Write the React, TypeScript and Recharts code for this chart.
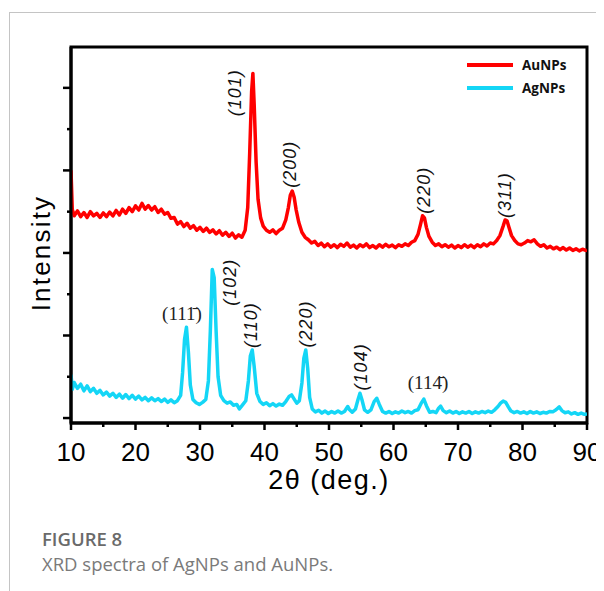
import React from "react";
import {
  LineChart,
  Line,
  XAxis,
  YAxis,
  ReferenceArea,
  ReferenceDot,
  Legend,
} from "recharts";

// 2θ positions and intensities (arbitrary units, AuNPs trace offset upward)
const auTheta = [
  10, 10.2, 10.5, 11, 11.5, 12, 12.5, 13, 13.5, 14,
  14.5, 15, 15.5, 16, 16.5, 17, 17.5, 18, 18.5, 19,
  19.5, 20, 20.5, 21, 21.5, 22, 22.5, 23, 23.5, 24,
  24.5, 25, 25.5, 26, 26.5, 27, 27.5, 28, 28.5, 29,
  29.5, 30, 30.5, 31, 31.5, 32, 32.5, 33, 33.5, 34,
  34.5, 35, 35.5, 36, 36.5, 37, 37.4, 37.7, 38.0, 38.2,
  38.4, 38.7, 39.0, 39.4, 39.8, 40.3, 40.8, 41.3, 41.8, 42.3,
  42.8, 43.3, 43.7, 44.0, 44.3, 44.6, 44.9, 45.3, 45.8, 46.3,
  46.8, 47.3, 47.8, 48.3, 48.8, 49.3, 49.8, 50.3, 50.8, 51.3,
  51.8, 52.3, 52.8, 53.3, 53.8, 54.3, 54.8, 55.3, 55.8, 56.3,
  56.8, 57.3, 57.8, 58.3, 58.8, 59.3, 59.8, 60.3, 60.8, 61.3,
  61.8, 62.3, 62.8, 63.3, 63.8, 64.2, 64.5, 64.8, 65.1, 65.5,
  66.0, 66.5, 67.0, 67.5, 68.0, 68.5, 69.0, 69.5, 70.0, 70.5,
  71.0, 71.5, 72.0, 72.5, 73.0, 73.5, 74.0, 74.5, 75.0, 75.5,
  76.0, 76.5, 77.0, 77.3, 77.6, 77.9, 78.3, 78.8, 79.3, 79.8,
  80.3, 80.8, 81.3, 81.8, 82.3, 82.8, 83.3, 83.8, 84.3, 84.8,
  85.3, 85.8, 86.3, 86.8, 87.3, 87.8, 88.3, 88.8, 89.3, 89.8, 90,
];
const auIntensity = [
  6.0, 5.05, 4.9, 5.02, 4.88, 4.98, 4.86, 5.0, 4.9, 4.96,
  4.86, 4.97, 4.88, 4.99, 4.9, 5.03, 4.92, 5.06, 4.96, 5.1,
  5.0, 5.14, 5.04, 5.2, 5.06, 5.15, 5.04, 5.12, 4.98, 5.06,
  4.94, 4.98, 4.84, 4.86, 4.7, 4.76, 4.64, 4.72, 4.6, 4.66,
  4.55, 4.62, 4.52, 4.6, 4.5, 4.56, 4.46, 4.54, 4.43, 4.5,
  4.4, 4.48, 4.36, 4.44, 4.38, 4.55, 5.1, 6.4, 7.9, 8.35,
  7.6, 6.2, 5.3, 4.85, 4.65, 4.55, 4.5, 4.56, 4.47, 4.55,
  4.6, 4.8, 5.1, 5.4, 5.5, 5.35, 5.05, 4.75, 4.5, 4.38,
  4.32, 4.24, 4.28, 4.18, 4.24, 4.15, 4.22, 4.14, 4.2, 4.13,
  4.21, 4.16, 4.24, 4.14, 4.19, 4.12, 4.2, 4.15, 4.22, 4.13,
  4.18, 4.12, 4.2, 4.14, 4.21, 4.15, 4.19, 4.13, 4.2, 4.16,
  4.22, 4.18, 4.26, 4.3, 4.45, 4.7, 4.9, 4.85, 4.62, 4.4,
  4.26, 4.18, 4.22, 4.15, 4.2, 4.14, 4.19, 4.12, 4.18, 4.13,
  4.2, 4.14, 4.19, 4.13, 4.2, 4.15, 4.22, 4.17, 4.24, 4.22,
  4.3, 4.42, 4.65, 4.8, 4.78, 4.62, 4.42, 4.3, 4.22, 4.2,
  4.24, 4.3, 4.27, 4.32, 4.22, 4.16, 4.2, 4.12, 4.16, 4.1,
  4.14, 4.08, 4.13, 4.07, 4.12, 4.06, 4.1, 4.05, 4.09, 4.06, 4.08,
];

const agTheta = [
  10, 10.2, 10.5, 11, 11.5, 12, 12.5, 13, 13.5, 14,
  14.5, 15, 15.5, 16, 16.5, 17, 17.5, 18, 18.5, 19,
  19.5, 20, 20.5, 21, 21.5, 22, 22.5, 23, 23.5, 24,
  24.5, 25, 25.5, 26, 26.5, 27, 27.3, 27.6, 27.9, 28.2,
  28.5, 28.9, 29.4, 29.9, 30.4, 30.9, 31.3, 31.6, 31.9, 32.2,
  32.5, 32.8, 33.2, 33.7, 34.2, 34.7, 35.2, 35.7, 36.1, 36.6,
  37.1, 37.5, 37.8, 38.1, 38.4, 38.8, 39.3, 39.8, 40.3, 40.8,
  41.3, 41.8, 42.3, 42.8, 43.3, 43.8, 44.2, 44.6, 45.0, 45.4,
  45.8, 46.1, 46.4, 46.7, 47.0, 47.4, 47.9, 48.4, 48.9, 49.4,
  49.9, 50.4, 50.9, 51.4, 51.9, 52.4, 52.9, 53.2, 53.6, 54.1,
  54.5, 54.8, 55.1, 55.5, 56.0, 56.5, 57.0, 57.4, 57.8, 58.3,
  58.8, 59.3, 59.8, 60.3, 60.8, 61.3, 61.8, 62.3, 62.8, 63.3,
  63.8, 64.3, 64.7, 65.1, 65.6, 66.1, 66.6, 67.0, 67.3, 67.7,
  68.2, 68.7, 69.2, 69.7, 70.2, 70.7, 71.2, 71.7, 72.2, 72.7,
  73.2, 73.7, 74.2, 74.7, 75.2, 75.7, 76.2, 76.6, 77.0, 77.4,
  77.8, 78.2, 78.7, 79.2, 79.7, 80.2, 80.7, 81.2, 81.7, 82.2,
  82.7, 83.2, 83.7, 84.2, 84.7, 85.2, 85.7, 86.1, 86.6, 87.1,
  87.6, 88.1, 88.6, 89.1, 89.6, 90,
];
const agIntensity = [
  1.05, 0.7, 0.86, 0.72, 0.82, 0.66, 0.78, 0.64, 0.72, 0.6,
  0.67, 0.56, 0.63, 0.53, 0.6, 0.5, 0.58, 0.48, 0.57, 0.47,
  0.55, 0.46, 0.53, 0.44, 0.5, 0.42, 0.49, 0.42, 0.47, 0.4,
  0.46, 0.38, 0.44, 0.37, 0.42, 0.55, 1.1, 1.9, 2.2, 1.6,
  0.8, 0.45, 0.37, 0.33, 0.38, 0.45, 0.9, 2.1, 3.6, 3.4,
  2.1, 1.0, 0.55, 0.42, 0.36, 0.39, 0.31, 0.33, 0.22, 0.32,
  0.42, 0.9, 1.5, 1.65, 1.25, 0.6, 0.4, 0.33, 0.37, 0.3,
  0.35, 0.29, 0.34, 0.31, 0.4, 0.52, 0.56, 0.46, 0.36, 0.42,
  0.85, 1.45, 1.65, 1.2, 0.5, 0.22, 0.15, 0.19, 0.12, 0.17,
  0.11, 0.16, 0.12, 0.17, 0.12, 0.16, 0.28, 0.2, 0.14, 0.22,
  0.45, 0.6, 0.45, 0.2, 0.14, 0.2, 0.4, 0.48, 0.33, 0.16,
  0.12, 0.16, 0.11, 0.15, 0.12, 0.17, 0.13, 0.16, 0.12, 0.18,
  0.2, 0.36, 0.46, 0.3, 0.14, 0.16, 0.13, 0.24, 0.29, 0.18,
  0.13, 0.17, 0.12, 0.16, 0.11, 0.15, 0.12, 0.16, 0.11, 0.15,
  0.12, 0.16, 0.13, 0.17, 0.14, 0.2, 0.28, 0.36, 0.41, 0.38,
  0.27, 0.17, 0.13, 0.16, 0.12, 0.15, 0.11, 0.16, 0.12, 0.15,
  0.11, 0.14, 0.12, 0.16, 0.15, 0.2, 0.27, 0.18, 0.13, 0.15,
  0.1, 0.13, 0.09, 0.12, 0.09, 0.1,
];

const xTicks = [10, 15, 20, 25, 30, 35, 40, 45, 50, 55, 60, 65, 70, 75, 80, 85, 90];
const yTicks = [0, 1, 2, 3, 4, 5, 6, 7, 8];
const legendOrder = ["AuNPs", "AgNPs"];

// peak (hkl) annotations
const auPeakText = ["(101)", "(200)", "(220)", "(311)"];
const auPeakTheta = [35.5, 44.0, 64.7, 77.3];
const auPeakLevel = [7.88, 6.15, 5.52, 5.4];

const agPeakText = ["(102)", "(110)", "(220)", "(104)"];
const agPeakTheta = [34.65, 37.9, 46.4, 55.0];
const agPeakLevel = [3.29, 2.25, 2.28, 1.24];

const agSerifText = ["(111\u0304)", "(114\u0304)"];
const agSerifTheta = [27.2, 65.35];
const agSerifLevel = [2.54, 0.85];

const auData = auTheta.map((t, i) => ({ theta: t, au: auIntensity[i] }));
const agData = agTheta.map((t, i) => ({ theta: t, ag: agIntensity[i] }));

const ARIAL = "Arial, 'Liberation Sans', sans-serif";
const SERIF = "'Liberation Serif', 'Times New Roman', serif";

const XTick = (props: any) => {
  const { x, y, payload } = props;
  const major = payload.value % 10 === 0;
  return (
    <g>
      <line x1={x} y1={y} x2={x} y2={y + (major ? 7 : 4)} stroke="#000" strokeWidth={2.5} />
      {major && (
        <text x={x} y={y + 38} textAnchor="middle" fontSize={26} fontFamily={ARIAL} fill="#000">
          {payload.value}
        </text>
      )}
    </g>
  );
};

const YTick = (props: any) => {
  const { x, y, payload } = props;
  const major = payload.value % 2 === 0;
  return <line x1={x - (major ? 8 : 4)} y1={y} x2={x} y2={y} stroke="#000" strokeWidth={2.5} />;
};

const rotatedLabel = (text: string) => (p: any) => (
  <text
    x={p.cx}
    y={p.cy}
    transform={`rotate(-90 ${p.cx} ${p.cy})`}
    textAnchor="middle"
    dominantBaseline="central"
    fontSize={18}
    fontStyle="italic"
    fontFamily={ARIAL}
    letterSpacing={1}
    fill="#111"
  >
    {text}
  </text>
);

const serifLabel = (text: string) => (p: any) => (
  <text
    x={p.cx}
    y={p.cy}
    textAnchor="middle"
    dominantBaseline="central"
    fontSize={19}
    fontFamily={SERIF}
    fill="#222"
  >
    {text}
  </text>
);

const renderLegend = (props: any) => {
  const payload = [...(props.payload || [])].sort(
    (a: any, b: any) => legendOrder.indexOf(a.value) - legendOrder.indexOf(b.value)
  );
  return (
    <div>
      {payload.map((entry: any) => (
        <div key={entry.value} style={{ display: "flex", alignItems: "center", height: 23.5 }}>
          <div style={{ width: 46, height: 4, background: entry.color, marginRight: 9 }} />
          <span style={{ fontFamily: "'Open Sans', sans-serif", fontWeight: 700, fontSize: 13.5, color: "#111" }}>
            {entry.value}
          </span>
        </div>
      ))}
    </div>
  );
};

const App: React.FC = () => {
  return (
    <div style={{ position: "relative", width: 596, height: 583 }}>
      <div
        style={{
          position: "absolute",
          left: 1,
          top: 3.5,
          width: 595,
          height: 580,
          borderTop: "1.5px solid #c4c4c4",
          borderLeft: "1.5px solid #c4c4c4",
          boxSizing: "border-box",
        }}
      />
      <div style={{ position: "absolute", left: 0, top: 0 }}>
        <LineChart width={596} height={500} margin={{ top: 39, right: 17, bottom: 5, left: 3 }}>
          <XAxis
            type="number"
            dataKey="theta"
            domain={[10, 90]}
            ticks={xTicks}
            allowDataOverflow
            height={80}
            tickSize={0}
            tickMargin={0}
            tickLine={false}
            tick={<XTick />}
            interval={0}
            axisLine={{ stroke: "#000", strokeWidth: 3 }}
            label={{
              content: (p: any) => (
                <text
                  x={p.viewBox.x + p.viewBox.width / 2}
                  y={p.viewBox.y + 66}
                  textAnchor="middle"
                  fontSize={27}
                  fontFamily={ARIAL}
                  letterSpacing={1.5}
                  fill="#000"
                >
                  2θ (deg.)
                </text>
              ),
            }}
          />
          <YAxis
            type="number"
            domain={[-0.12, 8.99]}
            ticks={yTicks}
            allowDataOverflow
            width={60}
            tickSize={0}
            tickMargin={0}
            tickLine={false}
            tick={<YTick />}
            interval={0}
            axisLine={{ stroke: "#000", strokeWidth: 3 }}
            label={{
              content: (p: any) => {
                const cx = p.viewBox.x + 39;
                const cy = p.viewBox.y + p.viewBox.height / 2 + 18;
                return (
                  <text
                    x={cx}
                    y={cy}
                    transform={`rotate(-90 ${cx} ${cy})`}
                    textAnchor="middle"
                    fontSize={26}
                    fontFamily={ARIAL}
                    letterSpacing={2.2}
                    fill="#000"
                  >
                    Intensity
                  </text>
                );
              },
            }}
          />
          <ReferenceArea
            x1={10}
            x2={90}
            y1={-0.12}
            y2={8.99}
            fill="none"
            stroke="#000"
            strokeWidth={3}
            ifOverflow="visible"
          />
          <Line
            data={auData}
            dataKey="au"
            name="AuNPs"
            type="linear"
            stroke="#ff0000"
            strokeWidth={3.5}
            strokeLinejoin="round"
            dot={false}
            isAnimationActive={false}
          />
          <Line
            data={agData}
            dataKey="ag"
            name="AgNPs"
            type="linear"
            stroke="#14d6f6"
            strokeWidth={3.5}
            strokeLinejoin="round"
            dot={false}
            isAnimationActive={false}
          />
          {auPeakText.map((t, i) => (
            <ReferenceDot
              key={"au" + i}
              x={auPeakTheta[i]}
              y={auPeakLevel[i]}
              r={0}
              ifOverflow="visible"
              shape={rotatedLabel(t)}
            />
          ))}
          {agPeakText.map((t, i) => (
            <ReferenceDot
              key={"ag" + i}
              x={agPeakTheta[i]}
              y={agPeakLevel[i]}
              r={0}
              ifOverflow="visible"
              shape={rotatedLabel(t)}
            />
          ))}
          {agSerifText.map((t, i) => (
            <ReferenceDot
              key={"ags" + i}
              x={agSerifTheta[i]}
              y={agSerifLevel[i]}
              r={0}
              ifOverflow="visible"
              shape={serifLabel(t)}
            />
          ))}
          <Legend
            layout="horizontal"
            verticalAlign="middle"
            align="center"
            content={renderLegend}
            wrapperStyle={{ left: 459, top: 45, width: 130 }}
          />
        </LineChart>
      </div>
      <div
        style={{
          position: "absolute",
          left: 34,
          top: 520,
          fontFamily: "'Open Sans', sans-serif",
          fontWeight: 600,
          fontSize: 18.5,
          lineHeight: 1.2,
          color: "#6a6a6a",
        }}
      >
        FIGURE 8
      </div>
      <div
        style={{
          position: "absolute",
          left: 34,
          top: 545,
          fontFamily: "'Open Sans', sans-serif",
          fontSize: 18.5,
          lineHeight: 1.2,
          color: "#7a7a7a",
          whiteSpace: "nowrap",
        }}
      >
        XRD spectra of AgNPs and AuNPs.
      </div>
    </div>
  );
};

export default App;
